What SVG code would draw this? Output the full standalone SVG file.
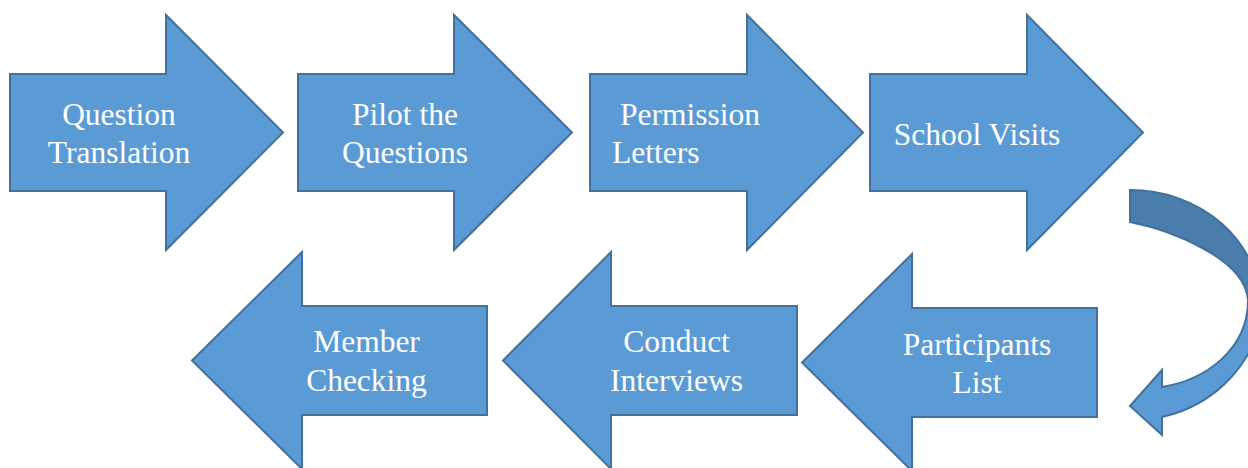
<svg xmlns="http://www.w3.org/2000/svg" width="1248" height="468" viewBox="0 0 1248 468">
<style>
.shape{fill:#5B9BD5;stroke:#41719C;stroke-width:2;stroke-linejoin:miter}
.back{fill:#497DAB;stroke:#41719C;stroke-width:2}
.lbl{font-family:"Liberation Serif","Times New Roman",serif;font-size:31.5px;fill:#FFFFFF}
.c{text-anchor:middle}
</style>
<rect width="1248" height="468" fill="#FFFFFF"/>
<g id="connectors">
<path class="back" d="M1130,190 A130,115 0 0 1 1260,305 L1248,300 C1245,258 1170,230 1130,222 Z"/>
<path class="shape" d="M1130,406 L1162,370 L1162,387 C1205,380 1248,350 1248,300 L1262,300 C1262,360 1215,405 1162,417 L1162,435 Z"/>
</g>
<g id="n1">
<polygon class="shape" points="10,74 166,74 166,15 283,132.5 166,250 166,191 10,191"/>
<text class="lbl c" x="119" y="125">Question</text>
<text class="lbl c" x="119" y="163">Translation</text>
</g>
<g id="n2">
<polygon class="shape" points="298,74 454,74 454,15 572,132.5 454,250 454,191 298,191"/>
<text class="lbl c" x="405" y="125">Pilot the</text>
<text class="lbl c" x="405" y="163">Questions</text>
</g>
<g id="n3">
<polygon class="shape" points="590,74 747,74 747,15 863,132.5 747,250 747,191 590,191"/>
<text class="lbl" x="620" y="125">Permission</text>
<text class="lbl" x="612" y="163">Letters</text>
</g>
<g id="n4">
<polygon class="shape" points="870,74 1027,74 1027,15 1143,132.5 1027,250 1027,191 870,191"/>
<text class="lbl c" x="977" y="145">School Visits</text>
</g>
<g id="n5">
<polygon class="shape" points="1097,308 912,308 912,254 802,362.5 912,471 912,417 1097,417"/>
<text class="lbl c" x="977" y="355">Participants</text>
<text class="lbl c" x="977" y="393">List</text>
</g>
<g id="n6">
<polygon class="shape" points="797,306 611,306 611,252 503,360.5 611,469 611,415 797,415"/>
<text class="lbl c" x="676.5" y="352">Conduct</text>
<text class="lbl c" x="676.5" y="391">Interviews</text>
</g>
<g id="n7">
<polygon class="shape" points="487,306 302,306 302,252 192,360.5 302,469 302,415 487,415"/>
<text class="lbl c" x="366.5" y="352">Member</text>
<text class="lbl c" x="366.5" y="391">Checking</text>
</g>
</svg>
